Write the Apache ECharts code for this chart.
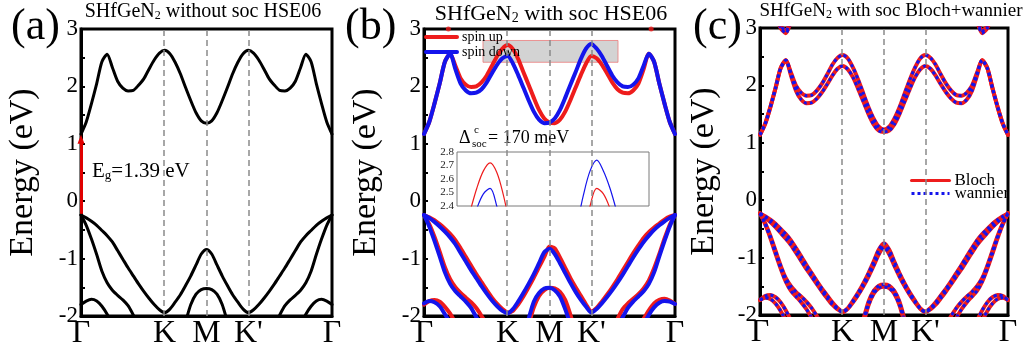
<!DOCTYPE html>
<html><head><meta charset="utf-8">
<script src="https://cdn.jsdelivr.net/npm/echarts@6/dist/echarts.min.js"></script>
<style>html,body{margin:0;padding:0;background:#fff}#c{width:1028px;height:362px}</style>
</head><body><div id="c"></div>
<script>
const FONT = "'Liberation Serif','Times New Roman',serif";
function gap(n){ return new Array(n).fill(null); }

// ---- k-path ----
const kLabels = ['Γ','K','M',"K'",'Γ'];
const kTicks = [0, 1/3, 1/2, 2/3, 1];
const kLines = [1/3, 1/2, 2/3];
const kGrid = Array.from({length:49}, (v,i) => i/48);

// ---- panel (a): without soc ----
const aCB  = [1.17,1.38,1.70,2.05,2.43,2.56,2.33,2.09,1.97,1.92,1.93,2.02,2.13,2.30,2.46,2.58,2.63,2.57,2.42,2.22,1.98,1.75,1.54,1.40,1.36,1.40,1.54,1.75,1.98,2.22,2.42,2.57,2.63,2.58,2.46,2.30,2.13,2.02,1.93,1.92,1.97,2.09,2.33,2.56,2.43,2.05,1.70,1.38,1.17];
const aVB1 = [-0.24,-0.29,-0.35,-0.42,-0.51,-0.60,-0.71,-0.86,-1.01,-1.16,-1.30,-1.44,-1.57,-1.69,-1.80,-1.89,-1.94,-1.88,-1.76,-1.63,-1.47,-1.30,-1.11,-0.92,-0.84,-0.92,-1.11,-1.30,-1.47,-1.63,-1.76,-1.88,-1.94,-1.89,-1.80,-1.69,-1.57,-1.44,-1.30,-1.16,-1.01,-0.86,-0.71,-0.60,-0.51,-0.42,-0.35,-0.29,-0.24];
const aVB2 = [-0.24,-0.42,-0.66,-0.93,-1.22,-1.42,-1.55,-1.64,-1.72,-1.82,-1.98,-2.15,-2.35, ...gap(23), -2.35,-2.15,-1.98,-1.82,-1.72,-1.64,-1.55,-1.42,-1.22,-0.93,-0.66,-0.42,-0.24];
const aVB3 = [...gap(19), -2.40,-2.10,-1.80,-1.62,-1.54,-1.52,-1.54,-1.62,-1.80,-2.10,-2.40, ...gap(19)];
const aVB4 = [-1.80,-1.74,-1.71,-1.74,-1.83,-1.97,-2.15, ...gap(35), -2.15,-1.97,-1.83,-1.74,-1.71,-1.74,-1.80];
const egArrow = [[0,-0.22],[0,1.08]];

// ---- panel (b): with soc, spin up / spin down ----
const bUpCB   = [1.17,1.38,1.70,2.05,2.43,2.57,2.36,2.14,2.03,1.99,2.00,2.07,2.19,2.36,2.53,2.66,2.72,2.65,2.48,2.25,2.03,1.80,1.59,1.44,1.37,1.36,1.42,1.56,1.76,1.98,2.20,2.40,2.53,2.49,2.38,2.23,2.07,1.95,1.89,1.88,1.93,2.05,2.30,2.57,2.43,2.05,1.70,1.38,1.17];
const bDnCB   = [1.17,1.38,1.70,2.05,2.43,2.57,2.30,2.05,1.93,1.88,1.89,1.95,2.07,2.23,2.38,2.49,2.53,2.40,2.20,1.98,1.76,1.56,1.42,1.36,1.37,1.44,1.59,1.80,2.03,2.25,2.48,2.66,2.74,2.66,2.53,2.36,2.19,2.07,2.00,1.99,2.03,2.14,2.36,2.57,2.43,2.05,1.70,1.38,1.17];
const bUpVB1  = [-0.24,-0.28,-0.33,-0.40,-0.48,-0.57,-0.68,-0.82,-0.97,-1.12,-1.27,-1.41,-1.55,-1.68,-1.79,-1.88,-1.94,-1.91,-1.80,-1.66,-1.50,-1.33,-1.15,-0.97,-0.79,-0.82,-0.98,-1.16,-1.34,-1.50,-1.65,-1.80,-1.92,-1.86,-1.75,-1.63,-1.50,-1.36,-1.21,-1.06,-0.91,-0.77,-0.64,-0.54,-0.46,-0.39,-0.32,-0.27,-0.24];
const bDnVB1  = [-0.24,-0.29,-0.36,-0.44,-0.53,-0.63,-0.75,-0.90,-1.05,-1.20,-1.34,-1.48,-1.61,-1.73,-1.83,-1.91,-1.95,-1.88,-1.75,-1.60,-1.44,-1.27,-1.08,-0.89,-0.83,-0.92,-1.08,-1.25,-1.42,-1.58,-1.72,-1.84,-1.94,-1.88,-1.78,-1.67,-1.55,-1.42,-1.28,-1.13,-0.98,-0.84,-0.71,-0.60,-0.50,-0.42,-0.35,-0.29,-0.24];
const bUpVB2  = [-0.24,-0.40,-0.62,-0.88,-1.15,-1.36,-1.50,-1.60,-1.68,-1.76,-1.86,-2.00,-2.15, ...gap(23), -2.20,-2.05,-1.88,-1.78,-1.70,-1.62,-1.52,-1.38,-1.17,-0.92,-0.65,-0.41,-0.24];
const bDnVB2  = [-0.24,-0.44,-0.69,-0.96,-1.24,-1.44,-1.57,-1.66,-1.75,-1.86,-2.02,-2.18, ...gap(25), -2.18,-2.02,-1.86,-1.75,-1.66,-1.57,-1.44,-1.24,-0.96,-0.69,-0.44,-0.24];
const bUpVB3  = [...gap(19), -2.45,-2.15,-1.85,-1.65,-1.55,-1.51,-1.52,-1.58,-1.72,-1.98,-2.30, ...gap(19)];
const bDnVB3  = [...gap(19), -2.35,-2.05,-1.75,-1.60,-1.52,-1.51,-1.55,-1.66,-1.88,-2.15,-2.45, ...gap(19)];
const bUpVB4  = [-1.80,-1.74,-1.72,-1.75,-1.84,-1.96,-2.12, ...gap(35), -2.05,-1.90,-1.78,-1.72,-1.70,-1.73,-1.79];
const bDnVB4  = [-1.78,-1.74,-1.76,-1.83,-1.97,-2.12, ...gap(36), -2.15,-1.98,-1.85,-1.77,-1.74,-1.75,-1.79];
const bTopDots = [[0.097,3.0],[0.905,3.0]];
const zoomBox  = [[0.235,2.42],[0.773,2.80]];
const insetX   = [0.23, 0.83];
const insetY   = [2.4, 2.8];

// ---- panel (c): Bloch vs wannier ----
const cCBu  = [1.14,1.33,1.62,1.95,2.30,2.44,2.22,1.99,1.87,1.82,1.83,1.91,2.03,2.19,2.36,2.48,2.53,2.47,2.31,2.10,1.86,1.62,1.42,1.28,1.23,1.28,1.42,1.62,1.86,2.10,2.31,2.47,2.53,2.48,2.36,2.19,2.03,1.91,1.83,1.82,1.87,1.99,2.22,2.44,2.30,1.95,1.62,1.33,1.14];
const cCBl  = [1.14,1.33,1.62,1.95,2.30,2.44,2.17,1.90,1.75,1.69,1.70,1.77,1.88,2.02,2.17,2.29,2.34,2.28,2.14,1.94,1.72,1.50,1.32,1.21,1.19,1.21,1.32,1.50,1.72,1.94,2.14,2.28,2.34,2.29,2.17,2.02,1.88,1.77,1.70,1.69,1.75,1.90,2.17,2.44,2.30,1.95,1.62,1.33,1.14];
const cTop1 = [...gap(3), 3.25,3.00,2.91,3.12,3.40, ...gap(33), 3.40,3.12,2.91,3.00,3.25, ...gap(3)];
const cTop2 = [...gap(3), 3.30,3.04,2.95,3.16,3.45, ...gap(33), 3.45,3.16,2.95,3.04,3.30, ...gap(3)];
const cVB1u = [-0.23,-0.28,-0.34,-0.41,-0.50,-0.59,-0.70,-0.84,-0.98,-1.13,-1.27,-1.41,-1.54,-1.66,-1.78,-1.88,-1.94,-1.88,-1.75,-1.61,-1.45,-1.27,-1.07,-0.86,-0.75,-0.86,-1.07,-1.27,-1.45,-1.61,-1.75,-1.88,-1.94,-1.88,-1.78,-1.66,-1.54,-1.41,-1.27,-1.13,-0.98,-0.84,-0.70,-0.59,-0.50,-0.41,-0.34,-0.28,-0.23];
const cVB1l = [-0.23,-0.30,-0.38,-0.47,-0.57,-0.67,-0.78,-0.92,-1.06,-1.20,-1.33,-1.46,-1.59,-1.71,-1.82,-1.90,-1.95,-1.89,-1.78,-1.65,-1.50,-1.33,-1.14,-0.94,-0.82,-0.94,-1.14,-1.33,-1.50,-1.65,-1.78,-1.89,-1.95,-1.90,-1.82,-1.71,-1.59,-1.46,-1.33,-1.20,-1.06,-0.92,-0.78,-0.67,-0.57,-0.47,-0.38,-0.30,-0.23];
const cVB2u = [-0.23,-0.40,-0.62,-0.88,-1.14,-1.36,-1.50,-1.60,-1.68,-1.77,-1.88,-2.02,-2.18, ...gap(23), -2.18,-2.02,-1.88,-1.77,-1.68,-1.60,-1.50,-1.36,-1.14,-0.88,-0.62,-0.40,-0.23];
const cVB2l = [-0.23,-0.42,-0.66,-0.93,-1.19,-1.42,-1.58,-1.68,-1.78,-1.90,-2.05,-2.22, ...gap(25), -2.22,-2.05,-1.90,-1.78,-1.68,-1.58,-1.42,-1.19,-0.93,-0.66,-0.42,-0.23];
const cVB3u = [...gap(19), -2.40,-2.08,-1.77,-1.58,-1.49,-1.47,-1.49,-1.58,-1.77,-2.08,-2.40, ...gap(19)];
const cVB3l = [...gap(19), -2.50,-2.15,-1.83,-1.63,-1.53,-1.51,-1.53,-1.63,-1.83,-2.15,-2.50, ...gap(19)];
const cVB4u = [-1.74,-1.67,-1.65,-1.69,-1.78,-1.92,-2.10, ...gap(35), -2.10,-1.92,-1.78,-1.69,-1.65,-1.67,-1.74];
const cVB4l = [-1.74,-1.70,-1.72,-1.80,-1.93,-2.10, ...gap(37), -2.10,-1.93,-1.80,-1.72,-1.70,-1.74];

// ---- text ----
const titles = ['SHfGeN{sub|2} without soc HSE06','SHfGeN{sub|2} with soc HSE06','SHfGeN{sub|2} with soc Bloch+wannier'];
const panelTags = ['(a)','(b)','(c)'];
const yName = 'Energy (eV)';

const RED = '#ee1c1c', BLUE = '#1414ec', BLACK = '#000';

function pts(vals){ return vals.map((v,i) => [kGrid[i], v == null ? null : v]); }
function band(name, gi, vals, color, width, extra){
  return Object.assign({
    type:'line', name, xAxisIndex:gi, yAxisIndex:gi, data:pts(vals),
    symbol:'none', showSymbol:false, smooth:0.25, clip:true, silent:true,
    connectNulls:false, emphasis:{disabled:true},
    lineStyle:{color, width, cap:'round', join:'round'}, itemStyle:{color}
  }, extra || {});
}
function vlines(){
  return { silent:true, symbol:['none','none'], label:{show:false},
    lineStyle:{color:'#8a8a8a', width:1.5, type:[6,4]},
    data: kLines.map(x => ({xAxis:x})) };
}

const series = [];
// (a)
series.push(band('a', 0, aCB, BLACK, 3, {markLine: vlines()}));
series.push(band('a', 0, aVB1, BLACK, 3));
series.push(band('a', 0, aVB2, BLACK, 3));
series.push(band('a', 0, aVB3, BLACK, 3));
series.push(band('a', 0, aVB4, BLACK, 3, {z:4, markLine:{silent:true, symbol:['none','triangle'], symbolSize:[7,9],
  label:{show:false}, lineStyle:{color:'#e00000', width:3, type:'solid'},
  data:[[{coord:egArrow[0]},{coord:egArrow[1]}]]}}));
// (b)
[bUpCB,bUpVB1,bUpVB2,bUpVB3,bUpVB4].forEach((d,i)=>series.push(band('spin up',1,d,RED,4, i===0?{markLine:vlines()}:{})));
[bDnCB,bDnVB1,bDnVB2,bDnVB3,bDnVB4].forEach(d=>series.push(band('spin down',1,d,BLUE,4)));
series.push({type:'scatter', name:'dots', xAxisIndex:1, yAxisIndex:1, data:bTopDots, symbolSize:5, clip:false,
  itemStyle:{color:RED}, silent:true, z:6,
  markArea:{silent:true, itemStyle:{color:'rgba(150,150,150,0.42)', borderColor:'rgba(235,110,110,0.7)', borderWidth:1},
    data:[[{coord:zoomBox[0]},{coord:zoomBox[1]}]]}});
// inset
series.push(band('inset up',3,bUpCB,RED,1.2,{smooth:0.35}));
series.push(band('inset dn',3,bDnCB,BLUE,1.2,{smooth:0.35}));
// (c)
const cBands = [cTop1,cTop2,cCBu,cCBl,cVB1u,cVB1l,cVB2u,cVB2l,cVB3u,cVB3l,cVB4u,cVB4l];
cBands.forEach((d,i)=>series.push(band('Bloch',2,d,RED,4, i===0?{markLine:vlines()}:{})));
cBands.forEach(d=>series.push(band('wannier',2,d,BLUE,3,{lineStyle:{color:BLUE,width:3,type:[3,3],cap:'butt'}})));

const grids = [
  {left:81, top:29, width:251, height:287, show:true, borderColor:'#000', borderWidth:3},
  {left:424, top:29, width:251, height:287, show:true, borderColor:'#000', borderWidth:3},
  {left:760, top:28, width:248, height:287, show:true, borderColor:'#000', borderWidth:3},
  {left:457, top:152, width:192, height:54, show:true, borderColor:'#7a7a7a', borderWidth:1}
];
function mainX(gi){
  return {type:'value', gridIndex:gi, min:0, max:1,
    axisLine:{show:true, onZero:false, lineStyle:{color:'#000', width:3}}, axisTick:{show:false}, splitLine:{show:false},
    axisLabel:{customValues:kTicks, fontFamily:FONT, fontSize:32, color:'#000', margin:2,
      formatter:(v)=>{ const j = kTicks.findIndex(t=>Math.abs(t-v)<1e-6); return j>=0?kLabels[j]:''; }}};
}
function mainY(gi, ng){
  return {type:'value', gridIndex:gi, min:-2, max:3, interval:0.5,
    name:yName, nameLocation:'middle', nameGap:ng, nameTextStyle:{fontFamily:FONT, fontSize:34, color:'#000'},
    axisLine:{show:true, onZero:false, lineStyle:{color:'#000', width:3}},
    axisTick:{show:true, inside:true, length:4, lineStyle:{color:'#000', width:2}},
    splitLine:{show:false},
    axisLabel:{fontFamily:FONT, fontSize:23, color:'#000', margin:3,
      formatter:(v)=> Number.isInteger(v) ? String(v) : ''}};
}

const tPos = [[203,2,20],[551,3,22],[891,2,19]];
const tagPos = [[11,5],[345,5],[693,5]];
const graphic = [];
titles.forEach((t,i)=>graphic.push({type:'text', x:tPos[i][0], y:tPos[i][1], silent:true,
  style:{text:t, align:'center', verticalAlign:'top', fill:'#000', fontFamily:FONT, fontSize:tPos[i][2], lineHeight:tPos[i][2],
    rich:{sub:{fontFamily:FONT, fontSize:Math.round(tPos[i][2]*0.62), lineHeight:6, verticalAlign:'bottom', fill:'#000'}}}}));
panelTags.forEach((t,i)=>graphic.push({type:'text', x:tagPos[i][0], y:tagPos[i][1], silent:true,
  style:{text:t, fill:'#000', fontFamily:FONT, fontSize:44}}));
graphic.push({type:'text', x:92, y:161, silent:true, style:{text:'E{sub|g}=1.39 eV', fill:'#000', fontFamily:FONT, fontSize:21, lineHeight:21,
  rich:{sub:{fontFamily:FONT, fontSize:13, lineHeight:6, verticalAlign:'bottom', fill:'#000'}}}});
graphic.push({type:'text', x:459, y:129, silent:true, style:{text:'Δ', fill:'#000', fontFamily:FONT, fontSize:18}});
graphic.push({type:'text', x:474, y:125, silent:true, style:{text:'c', fill:'#000', fontFamily:FONT, fontSize:11}});
graphic.push({type:'text', x:472, y:139, silent:true, style:{text:'soc', fill:'#000', fontFamily:FONT, fontSize:11}});
graphic.push({type:'text', x:488, y:129, silent:true, style:{text:'= 170 meV', fill:'#000', fontFamily:FONT, fontSize:18}});

const option = {
  animation:false, backgroundColor:'#fff',
  grid: grids,
  xAxis: [mainX(0), mainX(1), mainX(2),
    {type:'value', gridIndex:3, min:insetX[0], max:insetX[1], show:true, axisLine:{show:false}, axisTick:{show:false}, axisLabel:{show:false}, splitLine:{show:false}}],
  yAxis: [mainY(0,41), mainY(1,41), mainY(2,39),
    {type:'value', gridIndex:3, min:insetY[0], max:insetY[1], interval:0.1, axisLine:{show:false}, axisTick:{show:false}, splitLine:{show:false},
      axisLabel:{fontFamily:FONT, fontSize:11, color:'#222', margin:3, formatter:(v)=>v.toFixed(1)}}],
  legend: [
    {data:['spin up','spin down'], left:424, top:30, orient:'vertical', padding:0, itemWidth:31, itemHeight:14, itemGap:1,
      selectedMode:false, itemStyle:{opacity:0}, lineStyle:{width:4}, textStyle:{fontFamily:FONT, fontSize:14, color:'#000'}},
    {data:['Bloch','wannier'], left:910, top:172, orient:'vertical', padding:0, itemWidth:38, itemHeight:12, itemGap:-4,
      selectedMode:false, itemStyle:{opacity:0}, lineStyle:{width:3}, textStyle:{fontFamily:FONT, fontSize:17, color:'#000'}}
  ],
  graphic: graphic,
  series: series
};
const chart = echarts.init(document.getElementById('c'), null, {renderer:'canvas'});
chart.setOption(option);
</script></body></html>
